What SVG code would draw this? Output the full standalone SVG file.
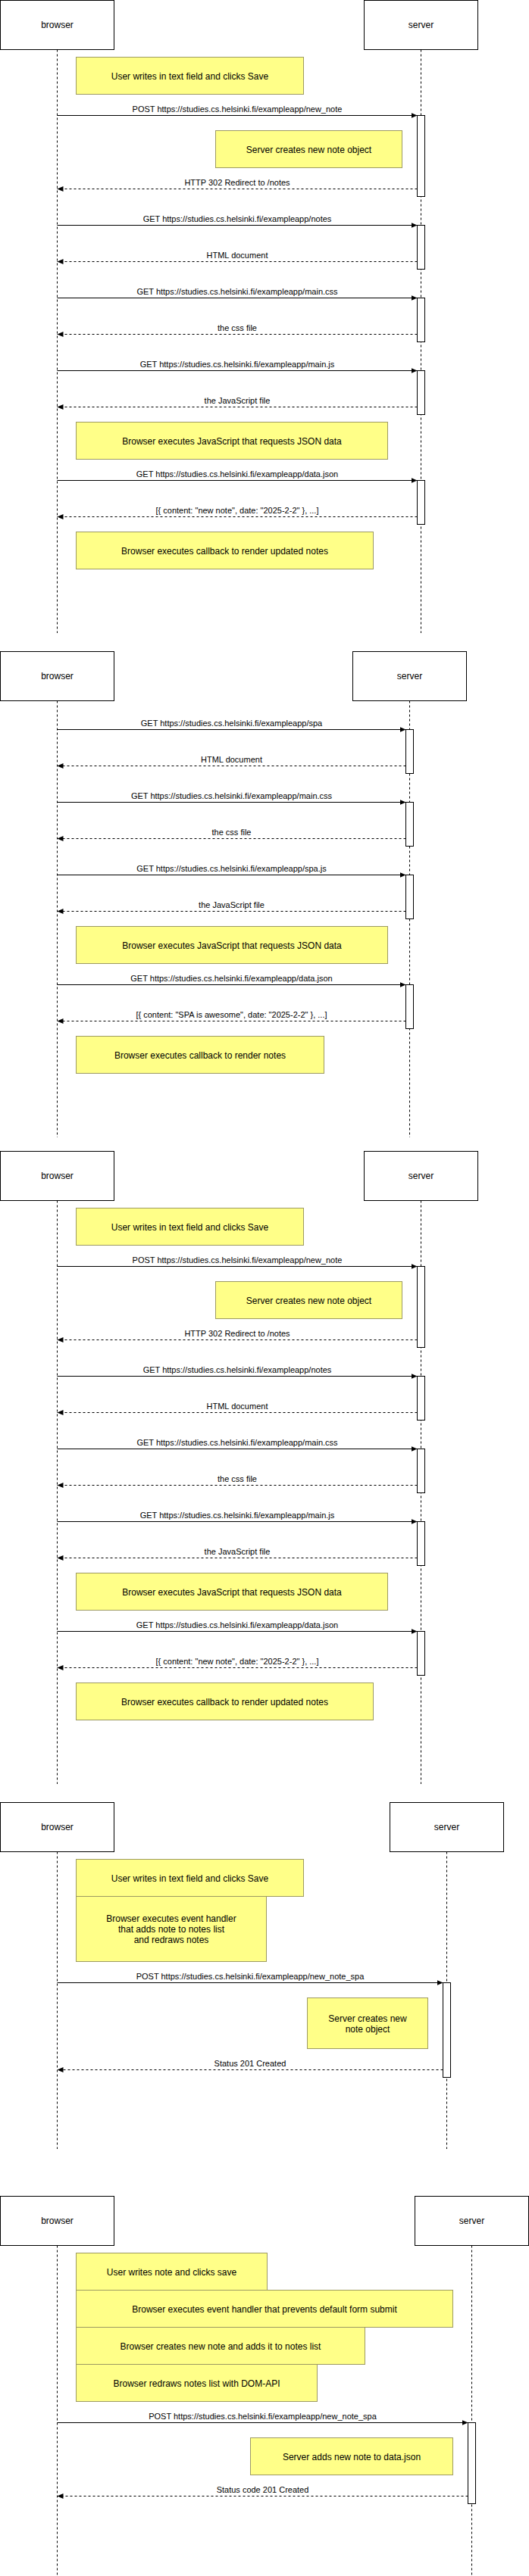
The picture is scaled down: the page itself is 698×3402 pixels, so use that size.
<svg xmlns="http://www.w3.org/2000/svg" width="698" height="3402" viewBox="0 0 698 3402">
<style>
.actor{fill:#fff;stroke:#000;stroke-width:1}
.life{stroke:#000;stroke-width:1;stroke-dasharray:3 3;fill:none}
.act{fill:#fff;stroke:#000;stroke-width:1}
.note{fill:#ffff88;stroke:#9d9a62;stroke-width:1}
.req{stroke:#000;stroke-width:1;fill:none;marker-end:url(#ah)}
.res{stroke:#000;stroke-width:1;stroke-dasharray:3 3;fill:none;marker-end:url(#ah)}
text{font-family:"Liberation Sans",Arial,Helvetica,sans-serif;fill:#000;text-anchor:middle}
.t12{font-size:12px}
.t11{font-size:11px}
</style>
<defs>
<marker id="ah" viewBox="0 0 8 7" refX="8" refY="3.5" markerWidth="8" markerHeight="7" markerUnits="userSpaceOnUse" orient="auto">
<path d="M0,0 L8,3.5 L0,7 z" fill="#000"/>
</marker>
</defs>
<rect width="698" height="3402" fill="#fff"/>

<!-- ===== Diagram 1 ===== -->
<g id="d1">
<g id="d1-browser"><rect class="actor" x="0.5" y="0.5" width="150" height="65"/><text class="t12" x="75.5" y="37">browser</text><line class="life" x1="75.5" y1="65.5" x2="75.5" y2="836"/></g>
<g id="d1-server"><rect class="actor" x="480.5" y="0.5" width="150" height="65"/><text class="t12" x="555.5" y="37">server</text><line class="life" x1="555.5" y1="65.5" x2="555.5" y2="836"/></g>
<g id="d1-note1"><rect class="note" x="100.5" y="75.5" width="300" height="49"/><text class="t12" x="250.5" y="104.5">User writes in text field and clicks Save</text></g>
<g id="d1-act1"><rect class="act" x="550.5" y="152.5" width="10" height="107"/></g>
<g id="d1-note2"><rect class="note" x="284.5" y="172.5" width="246" height="49"/><text class="t12" x="407.5" y="201.5">Server creates new note object</text></g>
<g id="d1-act2"><rect class="act" x="550.5" y="297.5" width="10" height="58"/></g>
<g id="d1-act3"><rect class="act" x="550.5" y="393.5" width="10" height="58"/></g>
<g id="d1-act4"><rect class="act" x="550.5" y="489.5" width="10" height="58"/></g>
<g id="d1-note3"><rect class="note" x="100.5" y="557.5" width="411" height="49"/><text class="t12" x="306" y="586.5">Browser executes JavaScript that requests JSON data</text></g>
<g id="d1-act5"><rect class="act" x="550.5" y="634.5" width="10" height="58"/></g>
<g id="d1-note4"><rect class="note" x="100.5" y="702.5" width="392" height="49"/><text class="t12" x="296.5" y="731.5">Browser executes callback to render updated notes</text></g>
<g id="d1-connectors">
<line class="req" x1="75.5" y1="152.5" x2="550.5" y2="152.5"/><text class="t11" x="313" y="147.5">POST https://studies.cs.helsinki.fi/exampleapp/new_note</text>
<line class="res" x1="550.5" y1="249.5" x2="75.5" y2="249.5"/><text class="t11" x="313" y="244.5">HTTP 302 Redirect to /notes</text>
<line class="req" x1="75.5" y1="297.5" x2="550.5" y2="297.5"/><text class="t11" x="313" y="292.5">GET https://studies.cs.helsinki.fi/exampleapp/notes</text>
<line class="res" x1="550.5" y1="345.5" x2="75.5" y2="345.5"/><text class="t11" x="313" y="340.5">HTML document</text>
<line class="req" x1="75.5" y1="393.5" x2="550.5" y2="393.5"/><text class="t11" x="313" y="388.5">GET https://studies.cs.helsinki.fi/exampleapp/main.css</text>
<line class="res" x1="550.5" y1="441.5" x2="75.5" y2="441.5"/><text class="t11" x="313" y="436.5">the css file</text>
<line class="req" x1="75.5" y1="489.5" x2="550.5" y2="489.5"/><text class="t11" x="313" y="484.5">GET https://studies.cs.helsinki.fi/exampleapp/main.js</text>
<line class="res" x1="550.5" y1="537.5" x2="75.5" y2="537.5"/><text class="t11" x="313" y="532.5">the JavaScript file</text>
<line class="req" x1="75.5" y1="634.5" x2="550.5" y2="634.5"/><text class="t11" x="313" y="629.5">GET https://studies.cs.helsinki.fi/exampleapp/data.json</text>
<line class="res" x1="550.5" y1="682.5" x2="75.5" y2="682.5"/><text class="t11" x="313" y="677.5">[{ content: "new note", date: "2025-2-2" }, ...]</text>
</g>
</g>

<!-- ===== Diagram 2 ===== -->
<g id="d2">
<g id="d2-browser"><rect class="actor" x="0.5" y="860.5" width="150" height="65"/><text class="t12" x="75.5" y="897">browser</text><line class="life" x1="75.5" y1="925.5" x2="75.5" y2="1502"/></g>
<g id="d2-server"><rect class="actor" x="465.5" y="860.5" width="150" height="65"/><text class="t12" x="540.5" y="897">server</text><line class="life" x1="540.5" y1="925.5" x2="540.5" y2="1502"/></g>
<g id="d2-act1"><rect class="act" x="535.5" y="963.5" width="10" height="58"/></g>
<g id="d2-act2"><rect class="act" x="535.5" y="1059.5" width="10" height="58"/></g>
<g id="d2-act3"><rect class="act" x="535.5" y="1155.5" width="10" height="58"/></g>
<g id="d2-note1"><rect class="note" x="100.5" y="1223.5" width="411" height="49"/><text class="t12" x="306" y="1252.5">Browser executes JavaScript that requests JSON data</text></g>
<g id="d2-act4"><rect class="act" x="535.5" y="1300.5" width="10" height="58"/></g>
<g id="d2-note2"><rect class="note" x="100.5" y="1368.5" width="327" height="49"/><text class="t12" x="264" y="1397.5">Browser executes callback to render notes</text></g>
<g id="d2-connectors">
<line class="req" x1="75.5" y1="963.5" x2="535.5" y2="963.5"/><text class="t11" x="305.5" y="958.5">GET https://studies.cs.helsinki.fi/exampleapp/spa</text>
<line class="res" x1="535.5" y1="1011.5" x2="75.5" y2="1011.5"/><text class="t11" x="305.5" y="1006.5">HTML document</text>
<line class="req" x1="75.5" y1="1059.5" x2="535.5" y2="1059.5"/><text class="t11" x="305.5" y="1054.5">GET https://studies.cs.helsinki.fi/exampleapp/main.css</text>
<line class="res" x1="535.5" y1="1107.5" x2="75.5" y2="1107.5"/><text class="t11" x="305.5" y="1102.5">the css file</text>
<line class="req" x1="75.5" y1="1155.5" x2="535.5" y2="1155.5"/><text class="t11" x="305.5" y="1150.5">GET https://studies.cs.helsinki.fi/exampleapp/spa.js</text>
<line class="res" x1="535.5" y1="1203.5" x2="75.5" y2="1203.5"/><text class="t11" x="305.5" y="1198.5">the JavaScript file</text>
<line class="req" x1="75.5" y1="1300.5" x2="535.5" y2="1300.5"/><text class="t11" x="305.5" y="1295.5">GET https://studies.cs.helsinki.fi/exampleapp/data.json</text>
<line class="res" x1="535.5" y1="1348.5" x2="75.5" y2="1348.5"/><text class="t11" x="305.5" y="1343.5">[{ content: "SPA is awesome", date: "2025-2-2" }, ...]</text>
</g>
</g>

<!-- ===== Diagram 3 ===== -->
<g id="d3" transform="translate(0,1520)">
<g id="d3-browser"><rect class="actor" x="0.5" y="0.5" width="150" height="65"/><text class="t12" x="75.5" y="37">browser</text><line class="life" x1="75.5" y1="65.5" x2="75.5" y2="836"/></g>
<g id="d3-server"><rect class="actor" x="480.5" y="0.5" width="150" height="65"/><text class="t12" x="555.5" y="37">server</text><line class="life" x1="555.5" y1="65.5" x2="555.5" y2="836"/></g>
<g id="d3-note1"><rect class="note" x="100.5" y="75.5" width="300" height="49"/><text class="t12" x="250.5" y="104.5">User writes in text field and clicks Save</text></g>
<g id="d3-act1"><rect class="act" x="550.5" y="152.5" width="10" height="107"/></g>
<g id="d3-note2"><rect class="note" x="284.5" y="172.5" width="246" height="49"/><text class="t12" x="407.5" y="201.5">Server creates new note object</text></g>
<g id="d3-act2"><rect class="act" x="550.5" y="297.5" width="10" height="58"/></g>
<g id="d3-act3"><rect class="act" x="550.5" y="393.5" width="10" height="58"/></g>
<g id="d3-act4"><rect class="act" x="550.5" y="489.5" width="10" height="58"/></g>
<g id="d3-note3"><rect class="note" x="100.5" y="557.5" width="411" height="49"/><text class="t12" x="306" y="586.5">Browser executes JavaScript that requests JSON data</text></g>
<g id="d3-act5"><rect class="act" x="550.5" y="634.5" width="10" height="58"/></g>
<g id="d3-note4"><rect class="note" x="100.5" y="702.5" width="392" height="49"/><text class="t12" x="296.5" y="731.5">Browser executes callback to render updated notes</text></g>
<g id="d3-connectors">
<line class="req" x1="75.5" y1="152.5" x2="550.5" y2="152.5"/><text class="t11" x="313" y="147.5">POST https://studies.cs.helsinki.fi/exampleapp/new_note</text>
<line class="res" x1="550.5" y1="249.5" x2="75.5" y2="249.5"/><text class="t11" x="313" y="244.5">HTTP 302 Redirect to /notes</text>
<line class="req" x1="75.5" y1="297.5" x2="550.5" y2="297.5"/><text class="t11" x="313" y="292.5">GET https://studies.cs.helsinki.fi/exampleapp/notes</text>
<line class="res" x1="550.5" y1="345.5" x2="75.5" y2="345.5"/><text class="t11" x="313" y="340.5">HTML document</text>
<line class="req" x1="75.5" y1="393.5" x2="550.5" y2="393.5"/><text class="t11" x="313" y="388.5">GET https://studies.cs.helsinki.fi/exampleapp/main.css</text>
<line class="res" x1="550.5" y1="441.5" x2="75.5" y2="441.5"/><text class="t11" x="313" y="436.5">the css file</text>
<line class="req" x1="75.5" y1="489.5" x2="550.5" y2="489.5"/><text class="t11" x="313" y="484.5">GET https://studies.cs.helsinki.fi/exampleapp/main.js</text>
<line class="res" x1="550.5" y1="537.5" x2="75.5" y2="537.5"/><text class="t11" x="313" y="532.5">the JavaScript file</text>
<line class="req" x1="75.5" y1="634.5" x2="550.5" y2="634.5"/><text class="t11" x="313" y="629.5">GET https://studies.cs.helsinki.fi/exampleapp/data.json</text>
<line class="res" x1="550.5" y1="682.5" x2="75.5" y2="682.5"/><text class="t11" x="313" y="677.5">[{ content: "new note", date: "2025-2-2" }, ...]</text>
</g>
</g>

<!-- ===== Diagram 4 ===== -->
<g id="d4">
<g id="d4-browser"><rect class="actor" x="0.5" y="2380.5" width="150" height="65"/><text class="t12" x="75.5" y="2417">browser</text><line class="life" x1="75.5" y1="2445.5" x2="75.5" y2="2838"/></g>
<g id="d4-server"><rect class="actor" x="514.5" y="2380.5" width="150" height="65"/><text class="t12" x="589.5" y="2417">server</text><line class="life" x1="589.5" y1="2445.5" x2="589.5" y2="2838"/></g>
<g id="d4-note1"><rect class="note" x="100.5" y="2455.5" width="300" height="49"/><text class="t12" x="250.5" y="2484.5">User writes in text field and clicks Save</text></g>
<g id="d4-note2"><rect class="note" x="100.5" y="2504.5" width="251" height="86"/><text class="t12" x="226" y="2538">Browser executes event handler</text><text class="t12" x="226" y="2552">that adds note to notes list</text><text class="t12" x="226" y="2566">and redraws notes</text></g>
<g id="d4-act1"><rect class="act" x="584.5" y="2618.5" width="10" height="125"/></g>
<g id="d4-note3"><rect class="note" x="405.5" y="2638.5" width="159" height="67"/><text class="t12" x="485" y="2670">Server creates new</text><text class="t12" x="485" y="2684">note object</text></g>
<g id="d4-connectors">
<line class="req" x1="75.5" y1="2618.5" x2="584.5" y2="2618.5"/><text class="t11" x="330" y="2613.5">POST https://studies.cs.helsinki.fi/exampleapp/new_note_spa</text>
<line class="res" x1="584.5" y1="2733.5" x2="75.5" y2="2733.5"/><text class="t11" x="330" y="2728.5">Status 201 Created</text>
</g>
</g>

<!-- ===== Diagram 5 ===== -->
<g id="d5">
<g id="d5-browser"><rect class="actor" x="0.5" y="2900.5" width="150" height="65"/><text class="t12" x="75.5" y="2937">browser</text><line class="life" x1="75.5" y1="2965.5" x2="75.5" y2="3402"/></g>
<g id="d5-server"><rect class="actor" x="547.5" y="2900.5" width="150" height="65"/><text class="t12" x="622.5" y="2937">server</text><line class="life" x1="622.5" y1="2965.5" x2="622.5" y2="3402"/></g>
<g id="d5-note1"><rect class="note" x="100.5" y="2975.5" width="252" height="49"/><text class="t12" x="226.5" y="3004.5">User writes note and clicks save</text></g>
<g id="d5-note2"><rect class="note" x="100.5" y="3024.5" width="497" height="49"/><text class="t12" x="349" y="3053.5">Browser executes event handler that prevents default form submit</text></g>
<g id="d5-note3"><rect class="note" x="100.5" y="3073.5" width="381" height="49"/><text class="t12" x="291" y="3102.5">Browser creates new note and adds it to notes list</text></g>
<g id="d5-note4"><rect class="note" x="100.5" y="3122.5" width="318" height="49"/><text class="t12" x="259.5" y="3151.5">Browser redraws notes list with DOM-API</text></g>
<g id="d5-act1"><rect class="act" x="617.5" y="3199.5" width="10" height="107"/></g>
<g id="d5-note5"><rect class="note" x="330.5" y="3219.5" width="267" height="49"/><text class="t12" x="464" y="3248.5">Server adds new note to data.json</text></g>
<g id="d5-connectors">
<line class="req" x1="75.5" y1="3199.5" x2="617.5" y2="3199.5"/><text class="t11" x="346.5" y="3194.5">POST https://studies.cs.helsinki.fi/exampleapp/new_note_spa</text>
<line class="res" x1="617.5" y1="3296.5" x2="75.5" y2="3296.5"/><text class="t11" x="346.5" y="3291.5">Status code 201 Created</text>
</g>
</g>
</svg>
